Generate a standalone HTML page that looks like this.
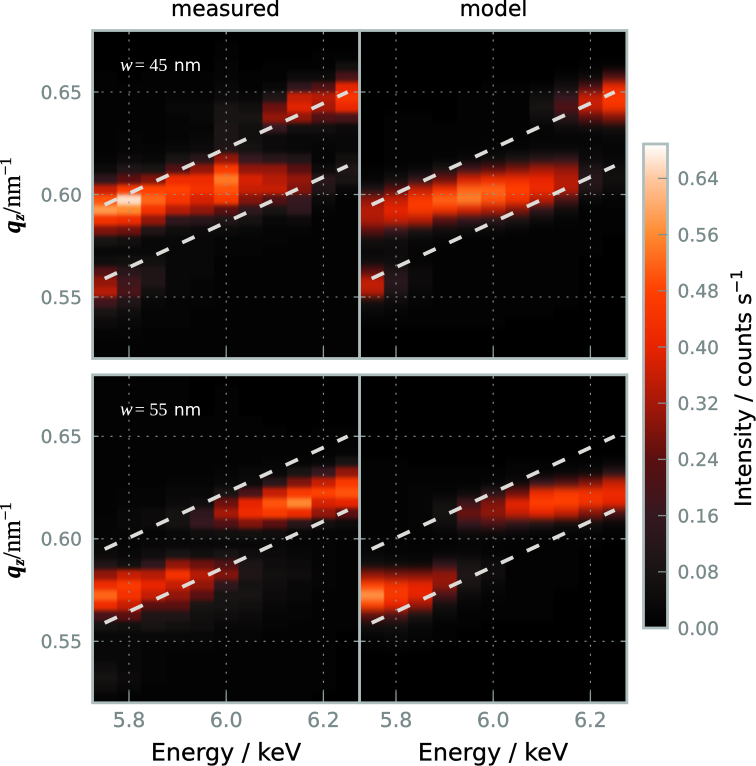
<!DOCTYPE html>
<html><head><meta charset="utf-8">
<style>
html,body{margin:0;padding:0;background:#fff;width:756px;height:766px;overflow:hidden}
svg{display:block}
text{font-family:"DejaVu Sans","Liberation Sans",sans-serif}
.serif{font-family:"Liberation Serif",serif}
.t{stroke:#000;stroke-width:.3px}
</style></head>
<body>
<svg id="fig" width="756" height="766" viewBox="0 0 756 766" xmlns="http://www.w3.org/2000/svg">
<defs>
<filter id="blurA" x="-5%" y="-5%" width="110%" height="110%" color-interpolation-filters="sRGB"><feGaussianBlur stdDeviation="0.5 2.2"/></filter>
<filter id="blurB" x="-5%" y="-5%" width="110%" height="110%" color-interpolation-filters="sRGB"><feGaussianBlur stdDeviation="0.5 3.6"/></filter>
</defs>
<g id="panels"></g>
<text class="t" x="225.5" y="16" font-size="21.8" text-anchor="middle" fill="#000">measured</text>
<text class="t" x="493.5" y="16" font-size="21.8" text-anchor="middle" fill="#000">model</text>
<text class="t" x="226" y="760.5" font-size="23.8" text-anchor="middle" fill="#000">Energy / keV</text>
<text class="t" x="493" y="760.5" font-size="23.8" text-anchor="middle" fill="#000">Energy / keV</text>
<text class="serif t" transform="translate(20,233) rotate(-90)" font-size="25" fill="#000"><tspan font-style="italic" font-weight="bold">q</tspan><tspan font-style="italic" font-weight="bold" font-size="16" dy="4">z</tspan><tspan dy="-4">/nm</tspan><tspan font-size="17" dy="-9">−1</tspan></text>
<text class="serif t" transform="translate(20,578) rotate(-90)" font-size="25" fill="#000"><tspan font-style="italic" font-weight="bold">q</tspan><tspan font-style="italic" font-weight="bold" font-size="16" dy="4">z</tspan><tspan dy="-4">/nm</tspan><tspan font-size="17" dy="-9">−1</tspan></text>
<g id="cbar"></g>
<text class="t" transform="translate(751,507) rotate(-90)" font-size="22.5" fill="#000">Intensity / counts s<tspan font-size="16" dy="-9">−1</tspan></text>
</svg>
<script>
// Axis data
var energies = [5.75,5.80,5.85,5.90,5.95,6.00,6.05,6.10,6.15,6.20,6.25];
var xTicks = [5.8,6.0,6.2];
var yTicks = [0.65,0.60,0.55];
var cbarTicks = [0,0.08,0.16,0.24,0.32,0.40,0.48,0.56,0.64];
var qTop = 0.68;
var qStep = 0.005;
var cbarMax = 0.689;
// Dashed guide lines (energy, q)
var guideE = [5.75,6.25];
var guideUpperQ = [0.595,0.65];
var guideLowerQ = [0.559,0.614];
// Colormap
var cmapValues = [0,0.08,0.16,0.24,0.32,0.40,0.48,0.56,0.64,0.689];
var cmapColors = [[0,0,0],[24,20,20],[53,24,32],[90,15,16],[165,24,8],[232,36,0],[255,64,0],[255,138,48],[255,200,160],[255,255,255]];
// Intensity, in 0.01 counts/s; one array per energy column, top row to bottom row
var measured45 = [
[0,0,0,0,1,1,1,1,1,1,1,1,2,4,14,36,50,58,44,28,8,3,5,22,30,34,18,8,4,2,1,1],
[0,0,0,0,0,1,1,1,1,1,2,2,4,10,24,46,66,56,42,26,6,3,6,12,18,20,10,5,3,2,1,1],
[0,0,0,0,1,1,1,1,1,1,1,2,3,8,28,48,52,44,30,10,3,3,6,10,10,6,3,2,2,1,1,1],
[0,0,0,0,1,1,2,3,2,2,2,3,8,22,42,48,45,34,14,5,3,3,3,3,3,3,2,2,2,1,1,1],
[0,0,0,0,1,1,2,3,3,2,3,4,12,30,42,44,38,30,12,4,3,3,3,3,2,2,2,1,1,1,1,1],
[0,1,1,2,2,3,4,8,8,9,9,10,30,46,54,50,46,24,10,4,2,2,1,1,1,1,1,1,1,1,1,1],
[0,0,0,0,1,1,3,6,8,6,6,7,16,30,38,36,28,14,7,3,2,2,1,1,1,1,1,1,1,1,1,1],
[0,0,0,1,1,3,10,26,30,16,4,4,12,30,34,36,22,8,3,2,2,1,1,1,1,1,1,1,1,1,1,1],
[0,0,0,1,4,14,36,39,30,6,3,3,10,24,30,28,16,14,4,2,1,1,1,1,1,1,1,1,1,1,1,1],
[0,0,1,1,4,22,34,32,22,6,3,2,2,4,12,10,4,2,1,1,1,1,1,1,1,1,1,1,1,1,1,1],
[0,0,1,6,20,40,45,41,20,4,3,3,6,10,8,3,1,1,1,1,1,1,1,1,1,1,1,1,1,1,1,1]];
var model45 = [
[0,0,0,0,0,0,0,0,0,0,0,0,0,1,2,10,30,34,33,24,6,3,5,24,36,34,6,3,1,0,0,0],
[0,0,0,0,0,0,0,0,1,1,1,1,1,2,6,24,36,40,36,16,5,4,5,10,13,10,4,2,1,0,0,0],
[0,0,0,0,0,0,0,0,1,1,1,1,1,3,14,36,46,46,34,8,3,2,2,4,4,3,2,1,1,0,0,0],
[0,0,0,0,0,0,0,0,0,1,1,1,2,8,26,44,52,44,22,5,2,1,1,1,1,1,1,1,1,0,0,0],
[0,0,0,0,0,0,1,1,1,1,1,1,3,18,38,52,55,38,14,4,1,1,1,1,1,1,1,1,1,0,0,0],
[0,0,0,0,0,1,1,1,1,1,1,2,5,24,42,52,50,34,12,3,1,1,1,1,1,1,1,1,1,0,0,0],
[0,0,0,0,0,1,1,1,1,1,1,2,8,28,42,48,44,28,8,2,1,1,1,1,1,1,1,1,0,0,0,0],
[0,0,0,0,0,2,6,8,5,2,2,3,12,32,40,42,34,14,4,1,1,1,1,1,1,1,1,1,0,0,0,0],
[0,0,0,0,2,6,16,22,12,4,2,3,14,30,34,34,20,5,2,1,1,1,1,1,1,1,1,0,0,0,0,0],
[0,0,0,1,4,22,36,36,24,5,2,3,4,10,12,10,3,1,1,1,1,1,0,0,0,0,0,0,0,0,0,0],
[0,0,0,2,22,42,46,44,28,6,3,2,3,5,6,4,2,1,1,1,0,0,0,0,0,0,0,0,0,0,0,0]];
var measured55 = [
[1,1,1,1,1,1,1,1,1,1,1,1,1,1,2,2,3,4,10,30,42,52,42,20,7,3,3,3,5,7,5,2],
[1,1,1,1,1,1,1,1,1,1,1,2,2,3,3,2,2,3,6,36,46,44,36,24,6,3,3,3,3,4,3,1],
[1,1,1,1,1,1,1,1,1,1,1,2,2,4,4,2,3,5,14,34,40,36,24,10,8,3,2,2,2,2,1,1],
[1,1,1,1,1,1,1,1,1,1,2,3,4,7,7,3,3,8,30,44,36,30,24,10,6,3,2,1,1,1,1,1],
[0,0,0,0,1,1,1,1,1,1,2,3,5,14,16,5,3,6,26,34,30,24,8,6,5,3,2,1,1,1,1,1],
[0,1,1,1,1,1,1,1,1,2,3,8,26,32,22,6,3,8,22,28,14,8,7,5,3,2,1,1,1,1,1,1],
[0,0,0,0,1,1,1,1,1,3,4,20,40,42,28,6,3,5,9,10,7,8,6,4,3,2,1,1,1,1,1,1],
[0,0,0,0,0,1,1,1,2,3,12,36,50,46,24,5,3,4,5,6,5,4,3,2,2,1,1,1,1,1,1,1],
[0,0,0,0,0,0,1,1,2,8,28,46,56,42,12,3,2,3,4,5,3,3,2,2,1,1,1,1,1,1,1,1],
[0,0,0,0,0,1,1,1,3,16,36,48,38,30,6,2,2,2,2,2,2,1,1,1,1,1,1,1,1,1,1,0],
[0,0,0,0,0,1,1,2,8,30,46,50,40,24,4,2,1,1,1,1,1,1,1,1,1,0,0,0,0,0,0,0]];
var model55 = [
[0,0,0,0,0,0,0,0,1,1,1,1,1,1,1,1,2,3,6,30,48,58,48,24,6,2,1,0,0,0,0,0],
[0,0,0,0,0,0,0,0,1,1,1,1,1,1,1,1,2,2,5,28,44,46,40,20,6,3,2,0,0,0,0,0],
[0,0,0,0,0,0,0,0,0,1,1,2,2,2,2,1,1,2,4,28,40,40,30,8,3,2,1,0,0,0,0,0],
[0,0,0,0,0,0,0,0,0,1,1,2,6,7,5,2,1,3,14,30,30,20,6,3,1,1,0,0,0,0,0,0],
[0,0,0,0,0,0,0,0,0,1,1,4,18,26,16,4,2,3,8,10,8,4,2,1,1,0,0,0,0,0,0,0],
[0,0,0,0,0,0,0,0,0,1,2,12,28,30,20,4,1,2,5,5,3,2,1,1,0,0,0,0,0,0,0,0],
[0,0,0,0,0,0,0,0,1,2,4,26,40,36,14,3,1,1,1,1,1,1,1,1,0,0,0,0,0,0,0,0],
[0,0,0,0,0,0,0,0,1,2,16,42,48,40,10,2,1,1,1,1,1,1,1,1,0,0,0,0,0,0,0,0],
[0,0,0,0,0,0,0,0,1,3,22,46,48,36,6,2,1,1,1,1,1,0,0,0,0,0,0,0,0,0,0,0],
[0,0,0,0,0,0,0,0,1,4,28,44,44,28,6,2,1,0,0,0,0,0,0,0,0,0,0,0,0,0,0,0],
[0,0,0,0,0,0,0,0,2,12,36,42,40,20,3,1,0,0,0,0,0,0,0,0,0,0,0,0,0,0,0,0]];

var NS = 'http://www.w3.org/2000/svg';
function mk(tag, attrs, parent, txt) {
  var e = document.createElementNS(NS, tag);
  for (var k in attrs) e.setAttribute(k, attrs[k]);
  if (txt !== undefined) e.textContent = txt;
  parent.appendChild(e);
  return e;
}
function heat(v) {
  var n = cmapValues.length;
  if (v <= cmapValues[0]) return 'rgb(' + cmapColors[0].join(',') + ')';
  for (var i = 1; i < n; i++) {
    if (v <= cmapValues[i]) {
      var t = (v - cmapValues[i-1]) / (cmapValues[i] - cmapValues[i-1]);
      var a = cmapColors[i-1], b = cmapColors[i];
      return 'rgb(' + Math.round(a[0]+(b[0]-a[0])*t) + ',' + Math.round(a[1]+(b[1]-a[1])*t) + ',' + Math.round(a[2]+(b[2]-a[2])*t) + ')';
    }
  }
  return 'rgb(' + cmapColors[n-1].join(',') + ')';
}
var BORDER = '#aebebe', GRID = '#8d9d9d', TICKTXT = '#78898a';
var panelsRoot = document.getElementById('panels');
var XS = 486, YS = 2050, EHALF = 0.025;

function drawPanel(cfg) {
  var xOf = function (E) { return cfg.x58 + (E - 5.8) * XS; };
  var yOf = function (q) { return cfg.y65 + (0.65 - q) * YS; };
  var left = xOf(energies[0] - EHALF), right = xOf(energies[energies.length-1] + EHALF);
  var top = yOf(qTop), bottom = yOf(qTop - qStep * cfg.data[0].length);
  var g = mk('g', {}, panelsRoot);
  
  
  var clipId = 'clip-' + cfg.name;
  var cp = mk('clipPath', {id: clipId}, g);
  mk('rect', {x: left, y: top, width: right-left, height: bottom-top}, cp);
  var clipG = mk('g', {'clip-path': 'url(#' + clipId + ')'}, g);
  var bg = mk('rect', {x: left, y: top, width: right-left, height: bottom-top, fill: '#000'}, clipG);
  
  
  var heatG = mk('g', {filter: 'url(#' + cfg.blur + ')'}, clipG);
  
  
  cfg.data.forEach(function (col, c) {
    var x0 = xOf(energies[c] - EHALF), x1 = xOf(energies[c] + EHALF);
    col.forEach(function (val, r) {
      var y0 = yOf(qTop - qStep * r), y1 = yOf(qTop - qStep * (r + 1));
      var cell = mk('rect', {x: x0, y: y0, width: x1-x0+0.5, height: y1-y0+0.5, fill: heat(val/100), 'shape-rendering': 'crispEdges'}, heatG);
      
      
    });
  });
  // Grid and ticks
  xTicks.forEach(function (t) {
    var x = xOf(t);
    var gl = mk('line', {x1: x, x2: x, y1: top, y2: bottom, stroke: GRID, 'stroke-width': 1.1, 'stroke-dasharray': '2 7'}, clipG);
    
    
    var tk = mk('line', {x1: x, x2: x, y1: bottom-11, y2: bottom, stroke: GRID, 'stroke-width': 1.3}, clipG);
    
    
    mk('line', {x1: x, x2: x, y1: top, y2: top+4, stroke: GRID, 'stroke-width': 1.3}, clipG);
    if (cfg.xLabels) {
      var lb = mk('text', {x: x, y: 727, 'font-size': 20.5, 'text-anchor': 'middle', fill: TICKTXT, stroke: TICKTXT, 'stroke-width': 0.3}, g, t.toFixed(1));
      
      
    }
  });
  yTicks.forEach(function (t) {
    var y = yOf(t);
    var gl = mk('line', {x1: left, x2: right, y1: y, y2: y, stroke: GRID, 'stroke-width': 1.1, 'stroke-dasharray': '2 7'}, clipG);
    
    
    mk('line', {x1: left, x2: left+6, y1: y, y2: y, stroke: GRID, 'stroke-width': 1.3}, clipG);
    mk('line', {x1: right-6, x2: right, y1: y, y2: y, stroke: GRID, 'stroke-width': 1.3}, clipG);
    if (cfg.yLabels) {
      var lb = mk('text', {x: 82, y: y+6.8, 'font-size': 18.6, 'text-anchor': 'end', fill: TICKTXT, stroke: TICKTXT, 'stroke-width': 0.3}, g, t.toFixed(2));
      
      
    }
  });
  // Guide lines
  [guideUpperQ, guideLowerQ].forEach(function (qs) {
    var ln = mk('line', {x1: xOf(guideE[0]), y1: yOf(qs[0]), x2: xOf(guideE[1]), y2: yOf(qs[1]), stroke: '#dcdcd8', 'stroke-width': 3.8, 'stroke-dasharray': '13.5 15'}, clipG);
    
    
  });
  if (cfg.label) {
    var tx = mk('text', {x: left+27.5, y: top+40.5, fill: '#fff', 'font-size': 17}, g);
    
    
    mk('tspan', {'font-family': '"Liberation Serif",serif', 'font-style': 'italic', 'font-size': 19}, tx, 'w');
    mk('tspan', {'font-family': '"Liberation Serif",serif', 'font-size': 18, dx: 2}, tx, '= ' + cfg.label + ' ');
    mk('tspan', {dx: 2}, tx, 'nm');
  }
  var fr = mk('rect', {x: left, y: top, width: right-left, height: bottom-top, fill: 'none', stroke: BORDER, 'stroke-width': 2.8}, g);
  
  
}

drawPanel({name: 'panel-measured-45', data: measured45, x58: 129, y65: 92, blur: 'blurA', yLabels: true, label: '45'});
drawPanel({name: 'panel-model-45', data: model45, x58: 396, y65: 92, blur: 'blurB'});
drawPanel({name: 'panel-measured-55', data: measured55, x58: 129, y65: 436.3, blur: 'blurA', yLabels: true, xLabels: true, label: '55'});
drawPanel({name: 'panel-model-55', data: model55, x58: 396, y65: 436.3, blur: 'blurB', xLabels: true});

// Colorbar
(function () {
  var root = document.getElementById('cbar');
  var yOf = function (v) { return 628 - v * 702.5; };
  var defs = mk('defs', {}, root);
  var grad = mk('linearGradient', {id: 'cbarGrad', gradientUnits: 'userSpaceOnUse', x1: 0, x2: 0, y1: yOf(0), y2: yOf(cbarMax)}, defs);
  cmapValues.forEach(function (v, i) {
    mk('stop', {offset: v / cbarMax, 'stop-color': 'rgb(' + cmapColors[i].join(',') + ')'}, grad);
  });
  var bar = mk('rect', {x: 643.5, y: yOf(cbarMax), width: 24, height: yOf(0)-yOf(cbarMax), fill: 'url(#cbarGrad)', stroke: BORDER, 'stroke-width': 2.8}, root);
  
  
  cbarTicks.forEach(function (v) {
    var y = yOf(v);
    if (v > 0) {
      var tk = mk('line', {x1: 658, x2: 667, y1: y, y2: y, stroke: '#7d8f8f', 'stroke-width': 1.3}, root);
      
      
    }
    var lb = mk('text', {x: 677.5, y: y+6.8, 'font-size': 18.6, fill: TICKTXT, stroke: TICKTXT, 'stroke-width': 0.3}, root, v.toFixed(2));
    
    
  });
})();
</script>
</body></html>
